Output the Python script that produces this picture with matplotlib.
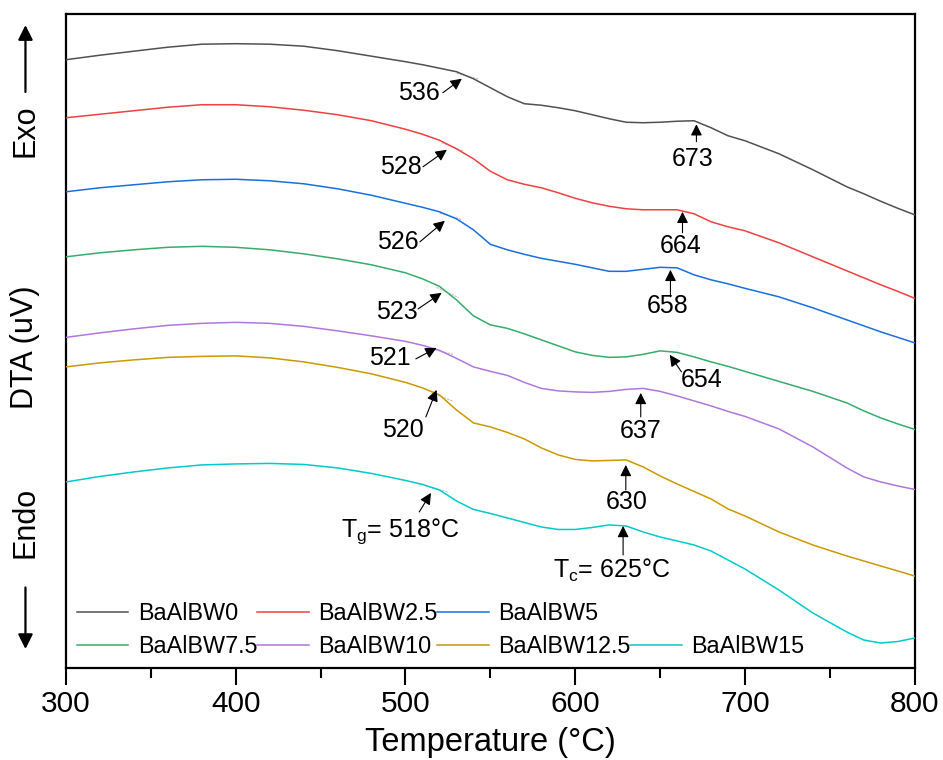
import numpy as np
import matplotlib
matplotlib.use('Agg')
import matplotlib.pyplot as plt
from matplotlib.lines import Line2D

plt.rcParams['font.family'] = ['Liberation Sans', 'DejaVu Sans']
plt.rcParams['mathtext.fontset'] = 'custom'
plt.rcParams['mathtext.rm'] = 'Liberation Sans'
plt.rcParams['mathtext.it'] = 'Liberation Sans:italic'

# Temperature grid (°C)
temps = [300, 320, 340, 360, 380, 400, 420, 440, 460, 480, 500, 510, 520, 530, 540, 550, 560, 570,
         580, 590, 600, 610, 620, 630, 640, 650, 660, 670, 680, 690, 700, 720, 740, 760, 770, 780, 790, 800]

# DTA signals (uV, offset per sample)
bw0 = [60.8, 61.25, 61.65, 62.05, 62.35, 62.4, 62.35, 62.15, 61.7, 61.15, 60.6, 60.3, 59.95, 59.6,
       58.9, 58.0, 57.1, 56.4, 56.25, 56.0, 55.7, 55.3, 54.9, 54.55, 54.5, 54.55, 54.65, 54.7, 54.0,
       53.2, 52.7, 51.4, 49.8, 48.1, 47.4, 46.65, 45.95, 45.3]
bw2_5 = [55.0, 55.35, 55.7, 56.05, 56.3, 56.3, 56.1, 55.75, 55.3, 54.7, 53.85, 53.35, 52.75, 51.9,
         50.9, 49.65, 48.8, 48.35, 48.0, 47.5, 46.95, 46.5, 46.15, 45.9, 45.8, 45.8, 45.8, 45.4, 44.6,
         44.1, 43.7, 42.5, 41.1, 39.7, 39.0, 38.3, 37.65, 36.95]
bw5 = [47.6, 48.0, 48.3, 48.6, 48.8, 48.85, 48.7, 48.4, 47.9, 47.25, 46.45, 46.05, 45.6, 44.9,
       43.8, 42.35, 41.8, 41.35, 40.95, 40.65, 40.35, 40.0, 39.65, 39.65, 39.85, 40.05, 40.0, 39.3, 38.8,
       38.4, 37.95, 37.1, 36.0, 34.8, 34.2, 33.6, 33.05, 32.5]
bw7_5 = [41.1, 41.5, 41.8, 42.05, 42.15, 42.05, 41.8, 41.4, 40.9, 40.3, 39.5, 38.9, 38.15, 36.8,
         35.2, 34.3, 33.95, 33.4, 32.8, 32.2, 31.6, 31.25, 31.05, 31.1, 31.35, 31.7, 31.55, 31.1, 30.6,
         30.15, 29.65, 28.65, 27.65, 26.5, 25.7, 25.0, 24.4, 23.85]
bw10 = [33.05, 33.5, 33.9, 34.25, 34.45, 34.55, 34.45, 34.15, 33.7, 33.2, 32.65, 32.25, 31.75, 30.95,
        30.1, 29.65, 29.25, 28.55, 27.95, 27.7, 27.6, 27.55, 27.65, 27.85, 27.95, 27.65, 27.2, 26.7, 26.2,
        25.65, 25.15, 23.9, 22.1, 20.0, 19.1, 18.6, 18.2, 17.85]
bw12_5 = [30.1, 30.5, 30.8, 31.05, 31.15, 31.2, 31.0, 30.6, 30.05, 29.4, 28.55, 28.0, 27.3, 25.8,
          24.5, 24.1, 23.55, 22.9, 22.0, 21.3, 20.85, 20.7, 20.75, 20.8, 20.1, 19.2, 18.4, 17.65, 16.9,
          15.9, 15.2, 13.6, 12.3, 11.2, 10.7, 10.2, 9.7, 9.2]
bw15 = [18.6, 19.15, 19.6, 20.0, 20.3, 20.4, 20.45, 20.35, 20.0, 19.45, 18.75, 18.35, 17.8, 16.7,
        15.85, 15.45, 15.0, 14.55, 14.1, 13.85, 13.85, 14.05, 14.3, 14.2, 13.6, 13.1, 12.7, 12.3, 11.7,
        10.8, 9.9, 7.8, 5.5, 3.6, 2.8, 2.5, 2.65, 3.0]

names = ['BaAlBW0', 'BaAlBW2.5', 'BaAlBW5', 'BaAlBW7.5', 'BaAlBW10', 'BaAlBW12.5', 'BaAlBW15']
colors = ['#515151', '#F14040', '#1A6FDF', '#37AD6B', '#B177DE', '#CC9900', '#00CBCC']
series = [bw0, bw2_5, bw5, bw7_5, bw10, bw12_5, bw15]

# Tg / Tc labels
tg_labels = ['536', '528', '526', '523', '521', '520', r'T$_\mathregular{g}$= 518°C']
tc_labels = ['673', '664', '658', '654', '637', '630', r'T$_\mathregular{c}$= 625°C']

# annotation layout: (tip, tail, text position)
tg_layout = [((533.2, 58.9), (522.0, 57.5), (508.0, 57.5)),
             ((524.4, 51.8), (510.3, 50.1), (497.3, 50.1)),
             ((523.2, 44.7), (508.5, 42.6), (495.7, 42.6)),
             ((521.3, 37.5), (507.5, 35.9), (494.7, 35.6)),
             ((518.3, 32.0), (506.1, 30.9), (490.8, 31.0)),
             ((518.3, 27.8), (512.0, 25.1), (498.3, 23.8)),
             ((515.0, 17.5), (508.1, 15.6), (496.7, 13.7))]
tc_layout = [((671.4, 54.35), (671.4, 52.6), (669.4, 50.9)),
             ((663.2, 45.6), (663.2, 43.5), (662.0, 42.2)),
             ((656.1, 39.8), (656.1, 37.1), (654.7, 36.2)),
             ((655.7, 31.3), (662.6, 29.6), (674.4, 28.8)),
             ((638.6, 27.5), (638.6, 25.1), (638.4, 23.7)),
             ((629.8, 20.3), (629.8, 17.8), (630.2, 16.6)),
             ((628.2, 14.2), (628.2, 11.3), (621.7, 9.8))]

fig = plt.figure(figsize=(9.43, 7.6), dpi=100)
ax = fig.add_axes([0.070, 0.121, 0.900, 0.861])

handles = []
for name, col, ys in zip(names, colors, series):
    h, = ax.plot(temps, ys, color=col, lw=1.1, label=name, zorder=3)
    handles.append(h)

# faint onset tangent lines at each Tg
for ys, (tip, tail, pos) in zip(series, tg_layout):
    t0 = tip[0] + 3
    y0 = np.interp(t0, temps, ys)
    slope = (y0 - np.interp(t0 - 25, temps, ys)) / 25
    tt = np.array([t0 - 6, t0 + 7])
    ax.plot(tt, y0 + slope * (tt - t0), color='#BDBDBD', lw=0.8, ls=(0, (2, 1)), zorder=2)

arrow_kw = dict(arrowstyle='-|>', color='black', lw=0.8, mutation_scale=17, shrinkA=0, shrinkB=0)
for lab, (tip, tail, pos) in zip(tg_labels + tc_labels, tg_layout + tc_layout):
    ax.annotate('', xy=tip, xytext=tail, arrowprops=arrow_kw)
    ax.text(pos[0], pos[1], lab, fontsize=18, ha='center', va='center')

ax.set_xlim(300, 800)
ax.set_ylim(0, 65.4)
ax.set_xticks([300, 400, 500, 600, 700, 800])
ax.set_xticks([350, 450, 550, 650, 750], minor=True)
ax.set_yticks([])
ax.tick_params(axis='x', which='major', length=12, width=1.5, labelsize=21.5, pad=4)
ax.tick_params(axis='x', which='minor', length=7, width=1.5)
for s in ax.spines.values():
    s.set_linewidth(1.6)
ax.set_xlabel('Temperature (°C)', fontsize=23.5, labelpad=6)

# legend: 3 entries on row 1, 4 on row 2
blank = Line2D([], [], color='none')
order = [handles[0], handles[3], handles[1], handles[4], handles[2], handles[5], blank, handles[6]]
labs = [names[0], names[3], names[1], names[4], names[2], names[5], '', names[6]]
ax.legend(order, labs, ncol=4, loc='lower left', bbox_to_anchor=(0.013, 0.015),
          frameon=False, fontsize=16.8, handlelength=2.2, handletextpad=0.4,
          columnspacing=0.0, labelspacing=0.45, borderpad=0, borderaxespad=0)

# y-axis label with Exo / Endo markers
ylx = 0.027
fig.text(ylx, 0.543, 'DTA (uV)', rotation=90, fontsize=22, ha='center', va='center')
fig.text(ylx, 0.828, 'Exo', rotation=90, fontsize=22, ha='center', va='center')
fig.text(ylx, 0.313, 'Endo', rotation=90, fontsize=22, ha='center', va='center')
ar = dict(arrowstyle='-|>', color='black', lw=1.6, mutation_scale=22, shrinkA=0, shrinkB=0)
ax.annotate('', xy=(ylx, 0.967), xytext=(ylx, 0.879), xycoords='figure fraction',
            textcoords='figure fraction', arrowprops=ar, annotation_clip=False)
ax.annotate('', xy=(ylx, 0.146), xytext=(ylx, 0.227), xycoords='figure fraction',
            textcoords='figure fraction', arrowprops=ar, annotation_clip=False)

fig.savefig('out.png', dpi=100)
